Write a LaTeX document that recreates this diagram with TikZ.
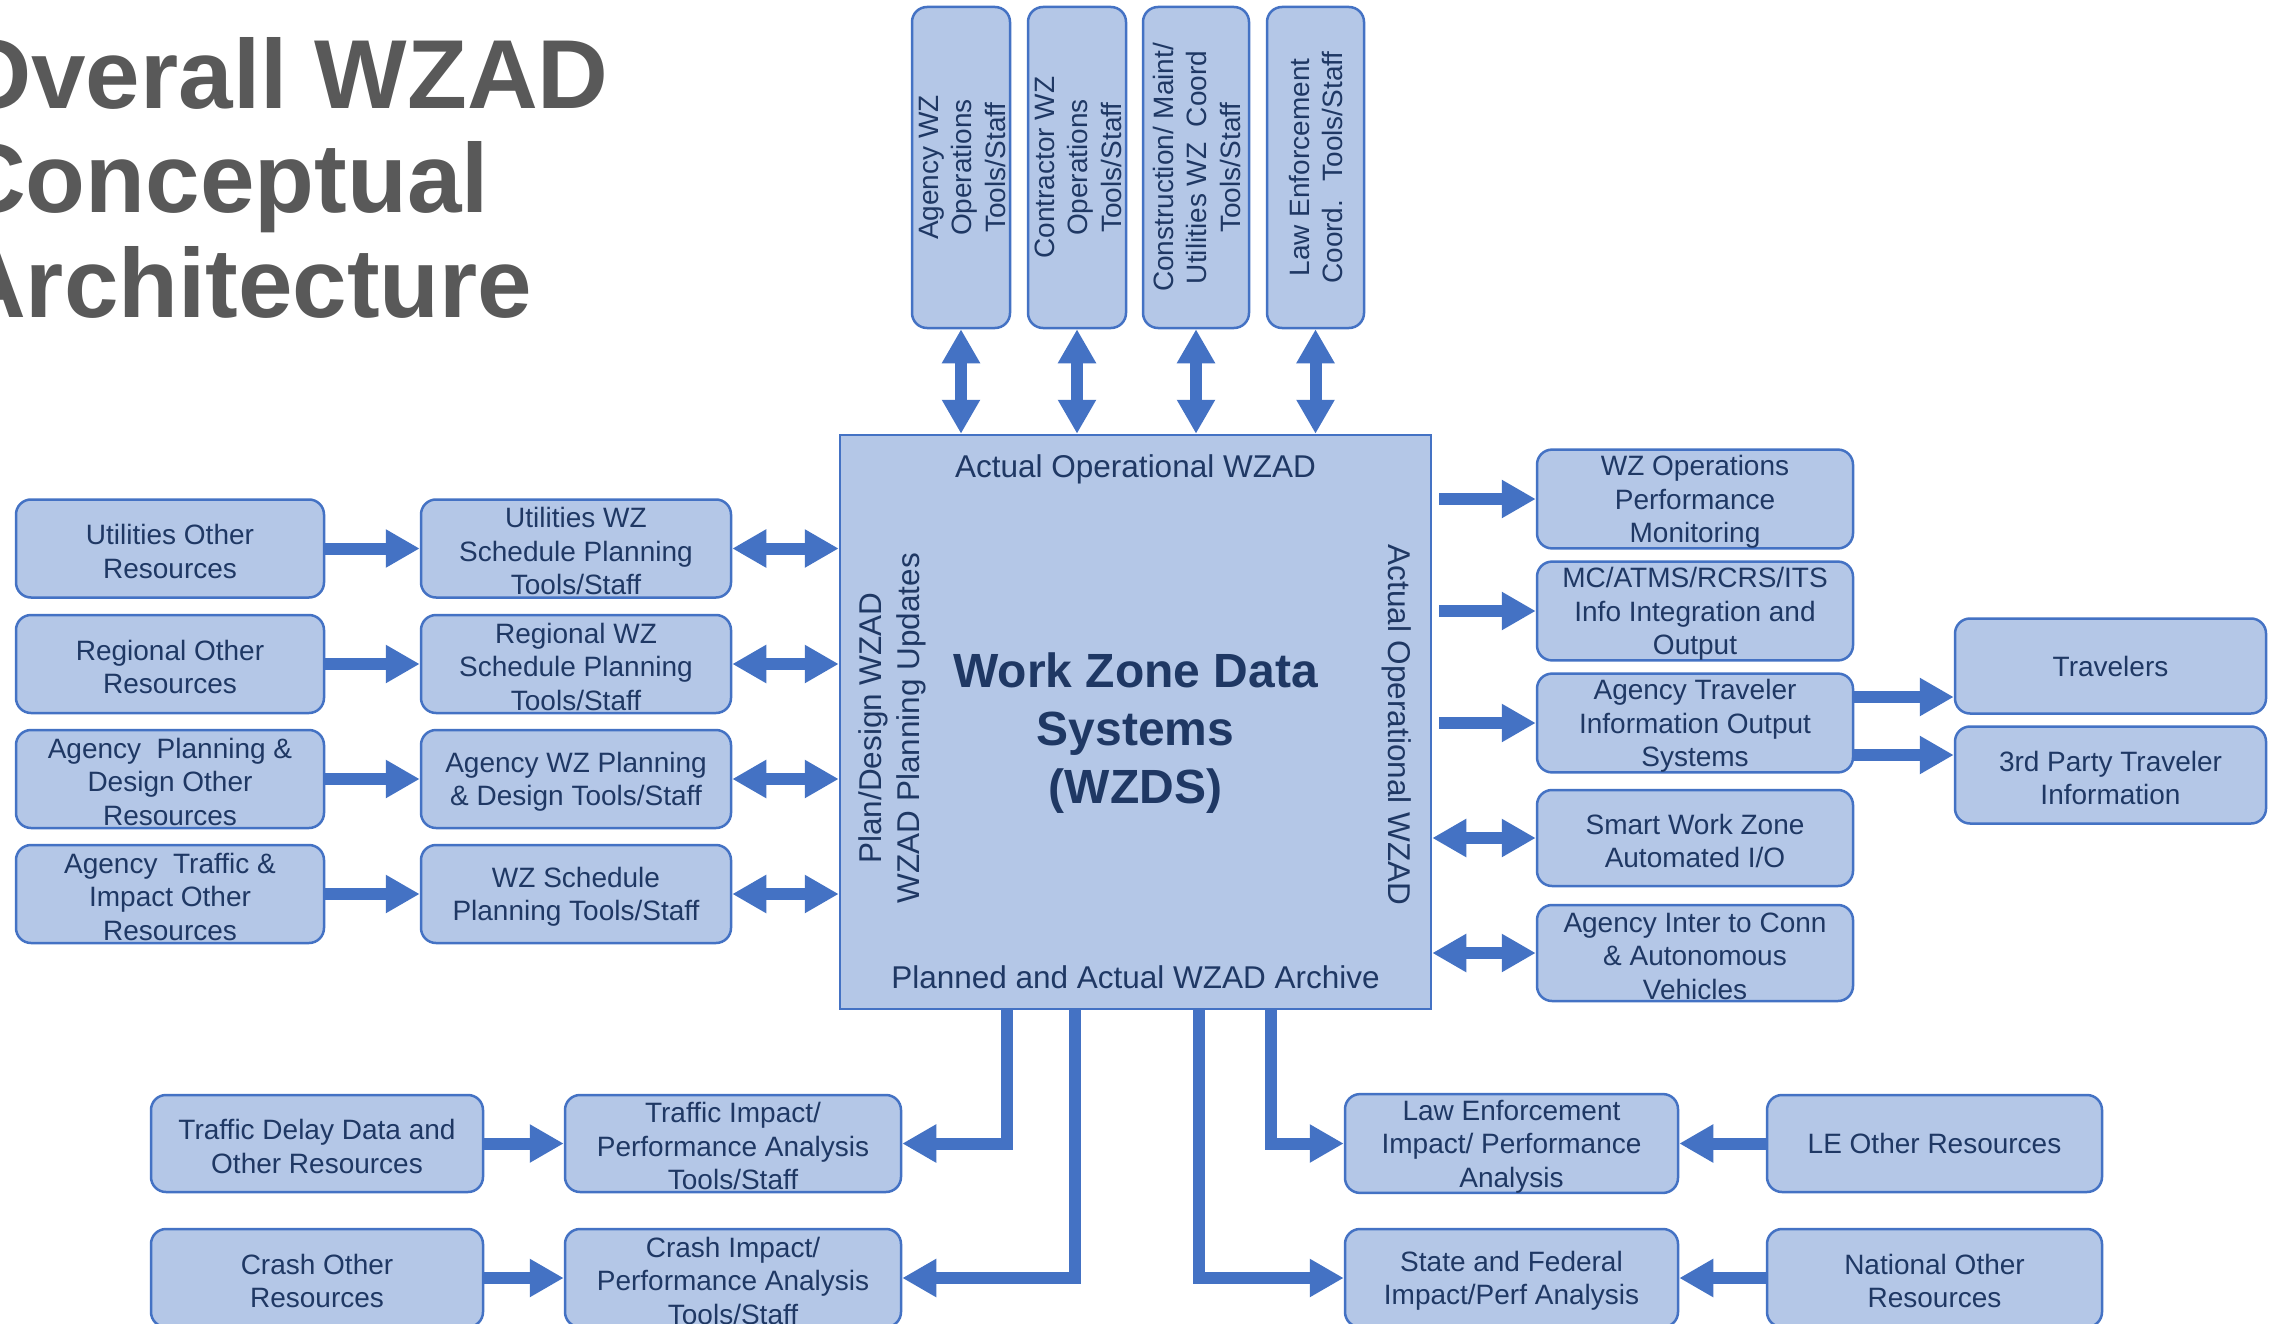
\documentclass[tikz,border=0pt]{standalone}
\usepackage{fontspec}
\setmainfont{Liberation Sans}
\usetikzlibrary{arrows.meta}
\definecolor{boxfill}{HTML}{B4C7E7}
\definecolor{boxline}{HTML}{4472C4}
\definecolor{txt}{HTML}{1F3864}
\definecolor{ttl}{HTML}{595959}
\newcommand\mystrut{\rule{0pt}{26pt}}
\newcommand\vtext[1]{\makebox[0pt]{\hspace{8pt}\rotatebox{90}{\begin{tabular}{@{}c@{}}#1\end{tabular}}}}
\tikzset{
  box/.style={draw=boxline, fill=boxfill, line width=2.5pt, rounded corners=15pt,
    inner sep=0pt, align=center, text=txt, font=\fontsize{28}{33.5}\selectfont},
  vbox/.style={box, minimum width=98pt, minimum height=321pt},
  lbox/.style={box, minimum width=308pt, minimum height=98pt},
  mbox/.style={box, minimum width=310pt, minimum height=98pt},
  rbox/.style={box, minimum width=316pt, minimum height=96pt},
  bbox/.style={box, minimum width=334pt, minimum height=97pt},
  fat/.style={draw=boxline, line width=12pt, line join=miter, -{Triangle[width=36pt,length=34pt]}},
  fatdbl/.style={draw=boxline, line width=12pt, {Triangle[width=36pt,length=34pt]}-{Triangle[width=36pt,length=34pt]}},
  mid/.style={text=txt, font=\fontsize{31.5}{38}\selectfont, align=center, inner sep=0pt},
  ttlfont/.style={anchor=base west, inner sep=0pt, text=ttl, font=\bfseries\fontsize{98}{104}\selectfont},
}
\begin{document}
\begin{tikzpicture}[x=1pt, y=-1pt]
\clip (0,0) rectangle (2282,1324);
\fill[white] (0,0) rectangle (2282,1324);

% title
\node[ttlfont] (t1) at (-45,109) {Overall WZAD};
\node[ttlfont] (t2) at (-45,213) {Conceptual};
\node[ttlfont] (t3) at (-45,317) {Architecture};

% central box
\node[draw=boxline, fill=boxfill, line width=2.5pt, minimum width=591pt, minimum height=574pt, inner sep=0pt] (wzds) at (1135.5,722) {};
\node[mid] (btop) at (1135.5,469) {Actual Operational WZAD};
\node[mid] (bbot) at (1135.5,977) {Planned and Actual WZAD Archive};
\node[text=txt, font=\bfseries\fontsize{48}{58}\selectfont, align=center, inner sep=0pt] (core) at (1135.5,733) {Work Zone Data\\Systems\\(WZDS)};
\node[mid, rotate=90] (lside) at (892,728) {Plan/Design WZAD\\WZAD Planning Updates};
\node[mid, rotate=-90] (rside) at (1397,725) {Actual Operational WZAD};

% top boxes
\node[vbox] (a1) at (961,167.5) {\vtext{Agency WZ\\Operations\\Tools/Staff}};
\node[vbox] (a2) at (1077,167.5) {\vtext{Contractor WZ\\Operations\\Tools/Staff}};
\node[vbox, minimum width=106pt] (a3) at (1196,167.5) {\vtext{Construction/ Maint/\\Utilities WZ~ Coord\\Tools/Staff}};
\node[vbox, minimum width=97pt] (a4) at (1315.5,167.5) {\vtext{Law Enforcement\\Coord.~ Tools/Staff}};
\foreach \n in {a1,a2,a3,a4}{\draw[fatdbl] (\n.south) -- (\n.south |- wzds.north);}

% left columns
\node[lbox] (o1) at (170,548.5) {\mystrut Utilities Other\\Resources};
\node[lbox] (o2) at (170,664) {\mystrut Regional Other\\Resources};
\node[lbox] (o3) at (170,779) {\mystrut Agency~ Planning \&\\Design Other\\Resources};
\node[lbox] (o4) at (170,894) {\mystrut Agency~ Traffic \&\\Impact Other\\Resources};
\node[mbox] (m1) at (576,548.5) {\mystrut Utilities WZ\\Schedule Planning\\Tools/Staff};
\node[mbox] (m2) at (576,664) {\mystrut Regional WZ\\Schedule Planning\\Tools/Staff};
\node[mbox] (m3) at (576,779) {\mystrut Agency WZ Planning\\\& Design Tools/Staff};
\node[mbox] (m4) at (576,894) {\mystrut WZ Schedule\\Planning Tools/Staff};
\foreach \i in {1,2,3,4}{
  \draw[fat] (o\i.east) -- (m\i.west);
  \draw[fatdbl] (m\i.east) -- (m\i.east -| wzds.west);
}

% right column
\node[rbox] (r1) at (1695,499) {\mystrut WZ Operations\\Performance\\Monitoring};
\node[rbox] (r2) at (1695,611) {\mystrut MC/ATMS/RCRS/ITS\\Info Integration and\\Output};
\node[rbox] (r3) at (1695,723) {\mystrut Agency Traveler\\Information Output\\Systems};
\node[rbox] (r4) at (1695,838) {\mystrut Smart Work Zone\\Automated I/O};
\node[rbox] (r5) at (1695,953) {\mystrut Agency Inter to Conn\\\& Autonomous\\Vehicles};
\coordinate (gapR) at ([xshift=7pt]wzds.east);
\foreach \i in {1,2,3}{\draw[fat] (gapR |- r\i.west) -- (r\i.west);}
\foreach \i in {4,5}{\draw[fatdbl] (wzds.east |- r\i.west) -- (r\i.west);}

\node[box, minimum width=311pt, minimum height=95pt] (trav) at (2110.5,666) {Travelers};
\node[box, minimum width=311pt, minimum height=97pt] (third) at (2110.5,775) {\mystrut 3rd Party Traveler\\Information};
\coordinate (ty1) at (0,697);
\coordinate (ty2) at (0,755);
\draw[fat] (r3.east |- ty1) -- (trav.west |- ty1);
\draw[fat] (r3.east |- ty2) -- (third.west |- ty2);

% bottom
\node[bbox, minimum width=332pt] (tdd) at (317,1143.5) {\mystrut Traffic Delay Data and\\Other Resources};
\node[bbox, minimum width=336pt] (tia) at (733,1143.5) {\mystrut Traffic Impact/\\Performance Analysis\\Tools/Staff};
\node[bbox, minimum width=332pt, minimum height=98pt] (cor) at (317,1278) {\mystrut Crash Other\\Resources};
\node[bbox, minimum width=336pt, minimum height=98pt] (cia) at (733,1278) {\mystrut Crash Impact/\\Performance Analysis\\Tools/Staff};
\node[bbox, minimum width=333pt] (lei) at (1511.5,1143.5) {\mystrut Law Enforcement\\Impact/ Performance\\Analysis};
\node[bbox, minimum width=335pt] (leo) at (1934.5,1143.5) {LE Other Resources};
\node[bbox, minimum width=333pt, minimum height=98pt] (sfi) at (1511.5,1278) {\mystrut State and Federal\\Impact/Perf Analysis};
\node[bbox, minimum width=335pt, minimum height=98pt] (nor) at (1934.5,1278) {\mystrut National Other\\Resources};
\draw[fat] (tdd.east) -- (tia.west);
\draw[fat] (cor.east) -- (cia.west);
\draw[fat] (leo.west) -- (lei.east);
\draw[fat] (nor.west) -- (sfi.east);

\coordinate (e1) at (1007,0);
\coordinate (e2) at (1075,0);
\coordinate (e3) at (1199,0);
\coordinate (e4) at (1271,0);
\draw[fat] (e1 |- wzds.south) |- (tia.east);
\draw[fat] (e2 |- wzds.south) |- (cia.east);
\draw[fat] (e3 |- wzds.south) |- (sfi.west);
\draw[fat] (e4 |- wzds.south) |- (lei.west);
\end{tikzpicture}
\end{document}
